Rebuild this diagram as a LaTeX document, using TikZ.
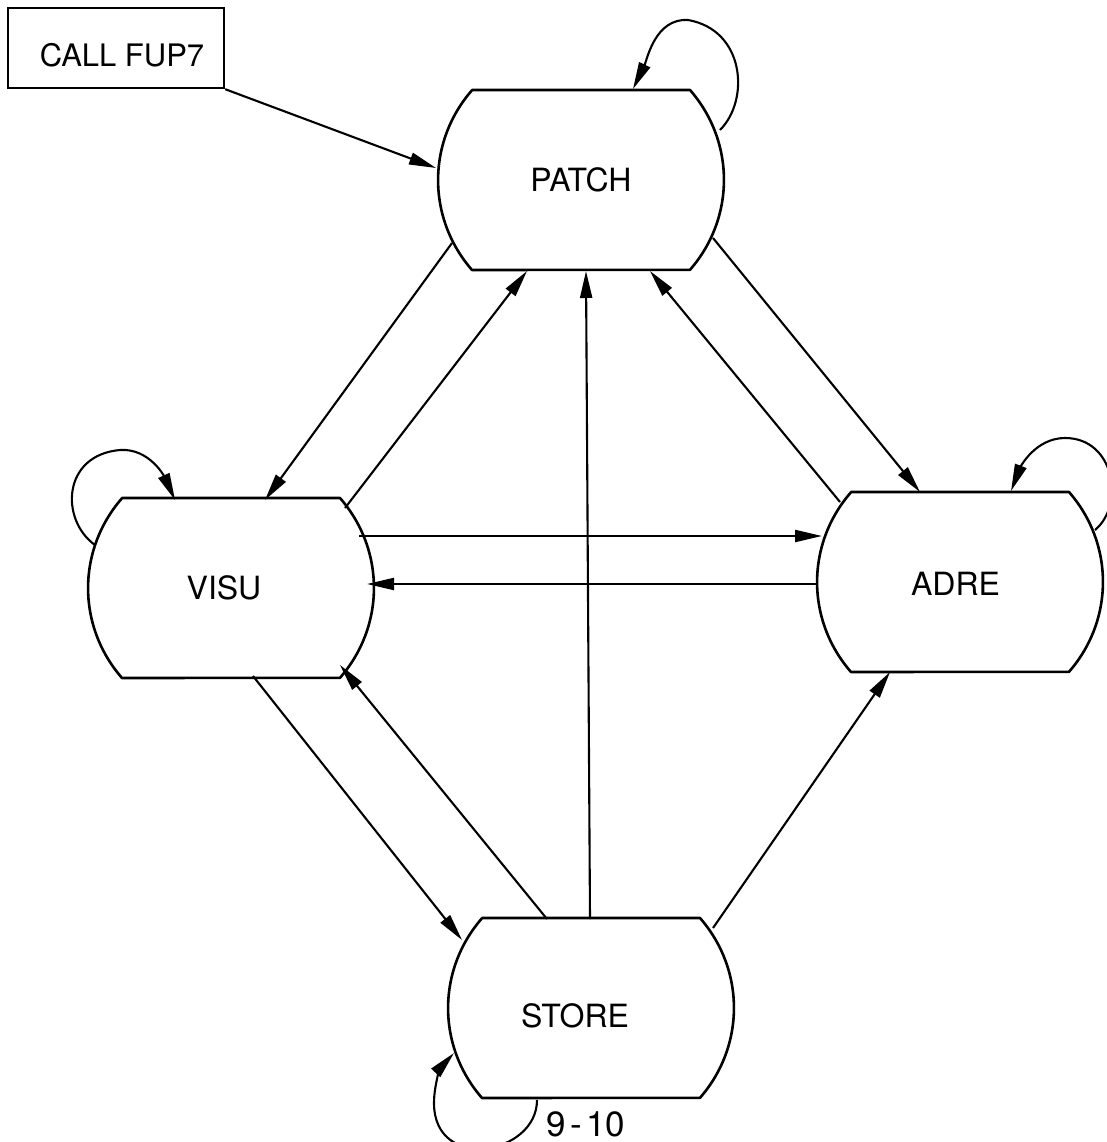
\documentclass[tikz,border=0pt]{standalone}
\usepackage{fontspec}
\setmainfont{TeX Gyre Heros}
\usetikzlibrary{arrows.meta,calc}
\tikzset{
  statebox/.style={shape=rectangle, draw=none, minimum width=286pt, minimum height=180pt,
    inner sep=0pt, font=\fontsize{32}{34}\selectfont},
  callbox/.style={shape=rectangle, draw, line width=2.4pt, minimum width=216pt,
    minimum height=80pt, inner sep=0pt, font=\fontsize{31}{33}\selectfont},
  outline/.style={line width=2.6pt, line join=round},
  conn/.style={line width=2.1pt, -{Triangle[length=27pt,width=12pt]}},
  pagelabel/.style={inner sep=0pt, font=\fontsize{35}{37}\selectfont}
}
\newcommand\barrelout[1]{%
  \draw[outline] ([shift={(-109,-90)}]#1.center) -- ([shift={(109,-90)}]#1.center)
    arc[start angle=40.3, end angle=-40.3, x radius=143pt, y radius=139pt]
    -- ([shift={(-109,90)}]#1.center)
    arc[start angle=220.3, end angle=139.7, x radius=143pt, y radius=139pt]
    -- cycle;}
\begin{document}
\begin{tikzpicture}[x=1pt, y=-1pt]
  \fill[white] (0,0) rectangle (1107,1142);
  \useasboundingbox (0,0) rectangle (1107,1142);

  % nodes
  \node[callbox] (call) at (116,48) {\hspace*{12pt}\raisebox{-7pt}[\height][\depth]{CALL FUP7}};
  \node[statebox] (patch) at (581,180) {PATCH};
  \node[statebox] (visu) at (231,588) {\hspace*{-14pt}VISU};
  \node[statebox] (adre) at (960,582) {\hspace*{-9pt}\raisebox{-2pt}[\height][\depth]{ADRE}};
  \node[statebox] (store) at (591,1008) {\hspace*{-32pt}\raisebox{-8pt}[\height][\depth]{STORE}};
  \node[pagelabel] (pg) at (586,1124) {{\spaceskip=0.12em\relax 9 - 10}};

  \barrelout{patch}
  \barrelout{visu}
  \barrelout{adre}
  \barrelout{store}

  % connectors
  \draw[conn] (call.south east) -- ([shift={(-145,-12)}]patch.center);

  \draw[conn] ([shift={(-129,63)}]patch.center) -- ([shift={(34,-88)}]visu.center);
  \draw[conn] ([shift={(114,-80)}]visu.center) -- ([shift={(-54,91)}]patch.center);
  \draw[conn] ([shift={(-1,-89)}]store.center) -- ([shift={(5,91)}]patch.center);
  \draw[conn] ([shift={(-120,-80)}]adre.center) -- ([shift={(69,91)}]patch.center);
  \draw[conn] ([shift={(132,58)}]patch.center) -- ([shift={(-40,-90)}]adre.center);

  \draw[conn] ([shift={(128,-52)}]visu.center) -- ([shift={(-138,-46)}]adre.center);
  \draw[conn] ([shift={(-143,2)}]adre.center) -- ([shift={(136,-4)}]visu.center);

  \draw[conn] ([shift={(22,88)}]visu.center) -- ([shift={(-129,-68)}]store.center);
  \draw[conn] ([shift={(-44,-89)}]store.center) -- ([shift={(109,77)}]visu.center);
  \draw[conn] ([shift={(122,-80)}]store.center) -- ([shift={(-70,90)}]adre.center);

  % self loops
  \coordinate (pl1) at ([shift={(139,-50)}]patch.center);
  \coordinate (pl2) at ([shift={(52,-91)}]patch.center);
  \draw[conn] (pl1) .. controls +(30,-30) and +(57,10) .. ([shift={(107,-160)}]patch.center)
     .. controls +(-33,-2) and +(14,-29) .. (pl2);

  \coordinate (al1) at ([shift={(135,-52)}]adre.center);
  \coordinate (al2) at ([shift={(51,-91)}]adre.center);
  \draw[conn] (al1) .. controls +(30,-25) and +(50,0) .. ([shift={(105,-144)}]adre.center)
     .. controls +(-30,0) and +(9,-23) .. (al2);

  \coordinate (vl1) at ([shift={(-136,-43)}]visu.center);
  \coordinate (vl2) at ([shift={(-56,-88)}]visu.center);
  \draw[conn] (vl1) .. controls +(-35,-25) and +(-58,5) .. ([shift={(-111,-138)}]visu.center)
     .. controls +(30,-2) and +(-10,-22) .. (vl2);

  \coordinate (sl1) at ([shift={(-54,92)}]store.center);
  \coordinate (sl2) at ([shift={(-137,45)}]store.center);
  \draw[conn] (sl1) .. controls +(0,55) and +(0,70) .. ([shift={(-157,95)}]store.center)
     .. controls +(0,-20) and +(-12,13) .. (sl2);
\end{tikzpicture}
\end{document}
